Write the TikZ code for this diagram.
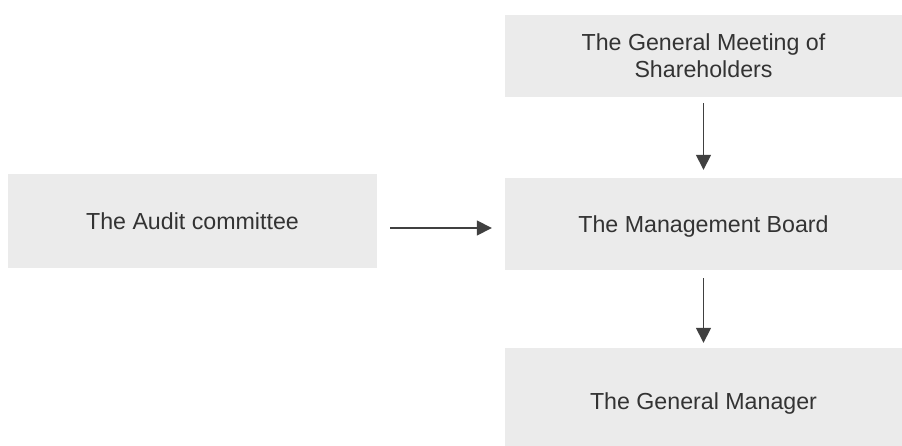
\documentclass[tikz,border=0pt]{standalone}
\usepackage{fontspec}
\setmainfont{Liberation Sans}
\usetikzlibrary{arrows.meta}
\definecolor{boxfill}{HTML}{EBEBEB}
\definecolor{txt}{HTML}{333333}
\definecolor{arr}{HTML}{404040}
\newcommand{\lowertext}[2]{\raisebox{-#1}[\height][\depth]{#2}}
\tikzset{
  orgbox/.style={fill=boxfill, draw=none, inner sep=0pt, text=txt, align=center,
    font=\fontsize{23.2}{27}\selectfont},
  conn/.style={draw=arr, line width=1.6pt, -{Triangle[length=15pt,width=15pt]}}
}
\begin{document}
\begin{tikzpicture}[x=1pt,y=-1pt]
\useasboundingbox[fill=white] (0,0) rectangle (902,446);
\node[orgbox, minimum width=397pt, minimum height=82pt] (gm) at (703.5,56) {The General Meeting of\\Shareholders};
\node[orgbox, minimum width=397pt, minimum height=92pt] (mb) at (703.5,224) {\lowertext{3pt}{The Management Board}};
\node[orgbox, minimum width=369pt, minimum height=94pt] (ac) at (192.5,221) {The Audit committee};
\node[orgbox, minimum width=397pt, minimum height=98pt] (gmr) at (703.5,397) {\lowertext{6.5pt}{The General Manager}};
\draw[conn, shorten <=6pt, shorten >=8pt] (gm.south) -- (mb.north);
\draw[conn, shorten <=13pt, shorten >=13pt] (ac.east |- 0,228) -- (mb.west |- 0,228);
\draw[conn, shorten <=8pt, shorten >=5pt] (mb.south) -- (gmr.north);
\end{tikzpicture}
\end{document}
